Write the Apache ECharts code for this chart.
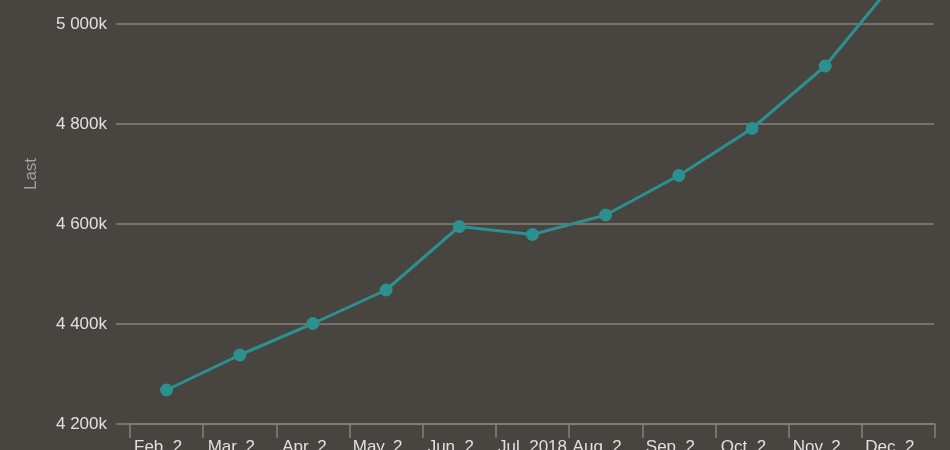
<!DOCTYPE html>
<html>
<head>
<meta charset="utf-8">
<script src="https://cdn.jsdelivr.net/npm/echarts@6/dist/echarts.min.js"></script>
<style>
html,body{margin:0;padding:0;background:#48443f;}
#c{width:950px;height:450px;}
</style>
</head>
<body>
<div id="c"></div>
<script>
const categories = ['Feb. 2…','Mar. 2…','Apr. 2…','May. 2…','Jun. 2…','Jul. 2018','Aug. 2…','Sep. 2…','Oct. 2…','Nov. 2…','Dec. 2…'];
const lastValues = [4268000,4338000,4401000,4468000,4595000,4579000,4618000,4697000,4791000,4916000,5094000];
const yMin = 4200000, yMax = 5200000, yStep = 200000;
const yAxisTitle = 'Last';

function fmt(v){
  const k = Math.round(v/1000);
  return String(k).replace(/\B(?=(\d{3})+(?!\d))/g,' ') + 'k';
}

const chart = echarts.init(document.getElementById('c'));
const font = 'Liberation Sans, Arial, sans-serif';
const gridColor = '#85807b';
chart.setOption({
  backgroundColor:'#48443f',
  animation:false,
  grid:[
    {left:116,right:16,top:-76,bottom:26,outerBoundsMode:'none',containLabel:false},
    {left:130,right:15,top:-76,bottom:26,outerBoundsMode:'none',containLabel:false}
  ],
  xAxis:[
    {gridIndex:0,type:'category',data:categories,show:false},
    {gridIndex:1,type:'category',data:categories,boundaryGap:true,
     axisLine:{show:true,lineStyle:{color:gridColor,width:1.5}},
     axisTick:{show:true,length:14,lineStyle:{color:gridColor,width:1.5}},
     axisLabel:{interval:0,color:'#e0e0e3',fontSize:17,fontFamily:font,margin:15,hideOverlap:false},
     splitLine:{show:false}}
  ],
  yAxis:[
    {gridIndex:0,type:'value',min:yMin,max:yMax,interval:yStep,
     name:yAxisTitle,nameLocation:'middle',nameGap:76,
     nameTextStyle:{color:'#a0a0a3',fontSize:17,fontFamily:font},
     axisLine:{show:false},axisTick:{show:false},
     axisLabel:{color:'#e0e0e3',fontSize:17,fontFamily:font,margin:9,formatter:fmt},
     splitLine:{show:true,lineStyle:{color:gridColor,width:1.5}}},
    {gridIndex:1,type:'value',min:yMin,max:yMax,interval:yStep,show:false,splitLine:{show:false}}
  ],
  series:[{
    type:'line',xAxisIndex:1,yAxisIndex:1,data:lastValues,
    symbol:'circle',symbolSize:13,
    lineStyle:{color:'#2b908f',width:3},
    itemStyle:{color:'#2b908f'}
  }]
});
</script>
</body>
</html>
